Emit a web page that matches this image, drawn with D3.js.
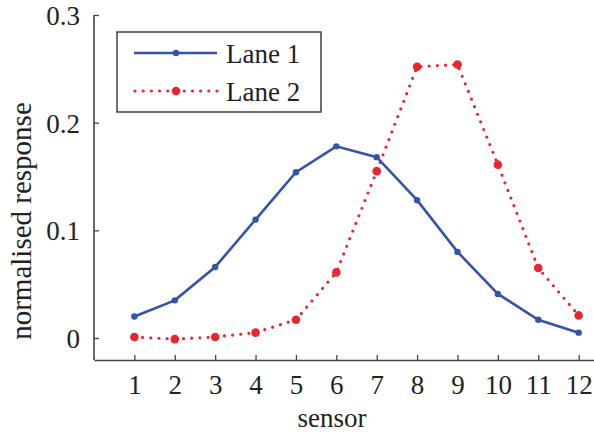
<!DOCTYPE html>
<html><head><meta charset="utf-8">
<script src="https://cdn.jsdelivr.net/npm/d3@7"></script>
<style>body{margin:0;background:#fff}svg text{font-family:"Liberation Serif","Times New Roman",serif;fill:#222}</style>
</head><body><svg id="c" width="594" height="436"></svg>
<script>
const sensors = [1,2,3,4,5,6,7,8,9,10,11,12];
const lane1 = [0.020,0.035,0.066,0.110,0.154,0.178,0.168,0.128,0.080,0.041,0.017,0.005];
const lane2 = [0.001,-0.001,0.001,0.005,0.017,0.061,0.155,0.252,0.254,0.161,0.065,0.021];
const yTicks = [0,0.1,0.2,0.3];
const seriesNames = ["Lane 1","Lane 2"];

const svg = d3.select("#c");
const x = d3.scaleLinear().domain([0,12.38]).range([94,594]);
const y = d3.scaleLinear().domain([-0.0204,0.3]).range([360,15]);
const blue = "#3553a8", red = "#e8262d";

// axes
const xa = svg.append("g").attr("transform","translate(0,360)")
  .call(d3.axisBottom(x).tickValues(sensors).tickSize(-5).tickPadding(12).tickSizeOuter(0).tickFormat(d3.format("d")));
const ya = svg.append("g").attr("transform","translate(94,0)")
  .call(d3.axisLeft(y).tickValues(yTicks).tickSize(-5).tickPadding(14).tickSizeOuter(0).tickFormat(d=>d===0?"0":d3.format(".1f")(d)));
[xa,ya].forEach(a=>{a.select(".domain").attr("stroke","#444").attr("stroke-width",1.6);
  a.selectAll(".tick line").attr("stroke","#444").attr("stroke-width",1.3);
  a.selectAll(".tick text").attr("font-size",27).attr("fill","#222");});
xa.selectAll(".tick text").attr("dy","0.71em").attr("y",15);
ya.select(".domain").attr("d","M0,360V15");
ya.selectAll(".tick text").attr("dy","0.35em");

svg.append("text").attr("x",332).attr("y",427).attr("text-anchor","middle").attr("font-size",27).text("sensor");
svg.append("text").attr("transform","translate(31,221) rotate(-90)").attr("text-anchor","middle").attr("font-size",29).text("normalised response");

const line = d3.line().x((d,i)=>x(sensors[i])).y(d=>y(d));
svg.append("path").datum(lane2).attr("d",line).attr("fill","none").attr("stroke",red)
  .attr("stroke-width",3.2).attr("stroke-linecap","round").attr("stroke-dasharray","0 8.2");
svg.append("g").selectAll("circle").data(lane2).join("circle")
  .attr("cx",(d,i)=>x(sensors[i])).attr("cy",d=>y(d)).attr("r",4.3).attr("fill",red);
svg.append("path").datum(lane1).attr("d",line).attr("fill","none").attr("stroke",blue).attr("stroke-width",2.6);
svg.append("g").selectAll("circle").data(lane1).join("circle")
  .attr("cx",(d,i)=>x(sensors[i])).attr("cy",d=>y(d)).attr("r",3.2).attr("fill",blue);

// legend
const lg = svg.append("g");
lg.append("rect").attr("x",117).attr("y",32).attr("width",204).attr("height",80).attr("fill","#fff").attr("stroke","#333").attr("stroke-width",1.4);
const ly = [53,91];
lg.append("line").attr("x1",134).attr("x2",217).attr("y1",ly[0]).attr("y2",ly[0]).attr("stroke",blue).attr("stroke-width",2.6);
lg.append("circle").attr("cx",176).attr("cy",ly[0]).attr("r",3.2).attr("fill",blue);
lg.append("line").attr("x1",135).attr("x2",217).attr("y1",ly[1]).attr("y2",ly[1]).attr("stroke",red).attr("stroke-width",3.2)
  .attr("stroke-linecap","round").attr("stroke-dasharray","0 8.2");
lg.append("circle").attr("cx",176).attr("cy",ly[1]).attr("r",4.3).attr("fill",red);
lg.selectAll("text").data(seriesNames).join("text").attr("x",226).attr("y",(d,i)=>ly[i]+10).attr("font-size",27).text(d=>d);
</script></body></html>
